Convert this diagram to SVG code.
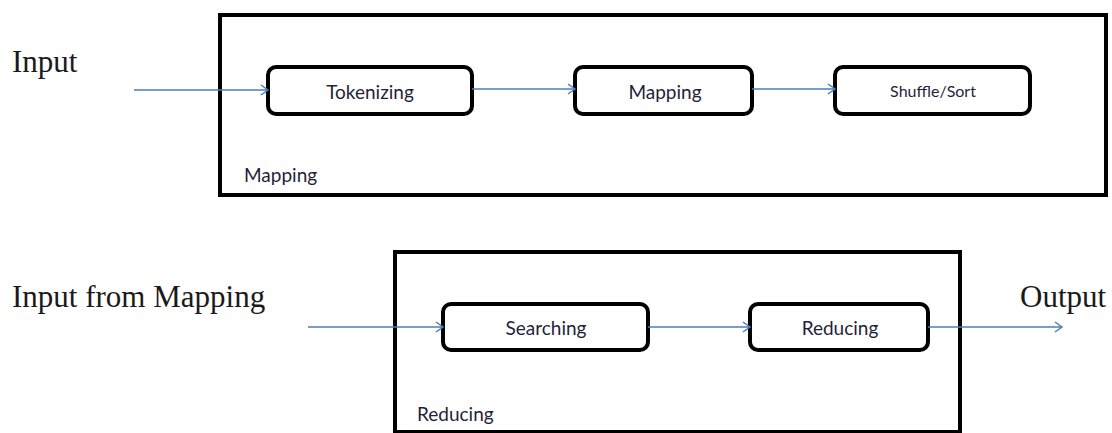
<svg xmlns="http://www.w3.org/2000/svg" width="1112" height="433" viewBox="0 0 1112 433">
<defs>
<marker id="arr" markerWidth="12" markerHeight="12" refX="9" refY="6" orient="auto" markerUnits="userSpaceOnUse">
<path d="M2,1 L9,6 L2,11" fill="none" stroke="#4a7ebb" stroke-width="1.5"/>
</marker>
<clipPath id="clipMap"><rect x="220" y="14" width="884" height="172"/></clipPath>
<clipPath id="clipRed"><rect x="396" y="252" width="564" height="173"/></clipPath>
<style>
.outer{fill:none;stroke:#000;stroke-width:4}
.box{fill:#fff;stroke:#000;stroke-width:4}
.lbl{font-family:"Liberation Serif",serif;font-size:31px;fill:#1a1a1a}
.txt{font-family:Lato,"Open Sans","Liberation Sans",sans-serif;font-size:19px;fill:#1f1f3a}
.small{font-size:16px}
.conn{fill:none;stroke:#4a7ebb;stroke-width:1.5;marker-end:url(#arr)}
</style>
</defs>
<rect width="1112" height="433" fill="#fff"/>
<g id="mapping-stage">
<rect class="outer" x="220" y="15" width="886" height="180"/>
<text class="txt" x="244" y="182" clip-path="url(#clipMap)">Mapping</text>
</g>
<g id="reducing-stage">
<rect class="outer" x="395" y="252" width="565" height="180"/>
<text class="txt" x="417" y="421" clip-path="url(#clipRed)">Reducing</text>
</g>
<g id="input-label"><text class="lbl" x="12" y="72">Input</text></g>
<g id="input-from-mapping-label"><text class="lbl" x="12" y="307">Input from Mapping</text></g>
<g id="output-label"><text class="lbl" x="1020" y="307">Output</text></g>
<g id="tokenizing">
<rect class="box" x="268" y="67" width="204" height="47" rx="8"/>
<text class="txt" x="370" y="99" text-anchor="middle">Tokenizing</text>
</g>
<g id="mapping">
<rect class="box" x="575" y="67" width="177" height="47" rx="8"/>
<text class="txt" x="665" y="99" text-anchor="middle">Mapping</text>
</g>
<g id="shuffle-sort">
<rect class="box" x="835" y="67" width="195" height="47" rx="8"/>
<text class="txt small" x="933" y="97" text-anchor="middle">Shuffle/Sort</text>
</g>
<g id="searching">
<rect class="box" x="443" y="304" width="205" height="46" rx="8"/>
<text class="txt" x="546" y="335" text-anchor="middle">Searching</text>
</g>
<g id="reducing">
<rect class="box" x="750" y="304" width="178" height="46" rx="8"/>
<text class="txt" x="840" y="335" text-anchor="middle">Reducing</text>
</g>
<g id="connectors">
<line class="conn" x1="134" y1="90" x2="268" y2="90"/>
<line class="conn" x1="472" y1="89" x2="575" y2="89"/>
<line class="conn" x1="752" y1="89" x2="835" y2="89"/>
<line class="conn" x1="308" y1="327" x2="443" y2="327"/>
<line class="conn" x1="648" y1="327" x2="750" y2="327"/>
<line class="conn" x1="928" y1="327" x2="1062" y2="327"/>
</g>
</svg>
